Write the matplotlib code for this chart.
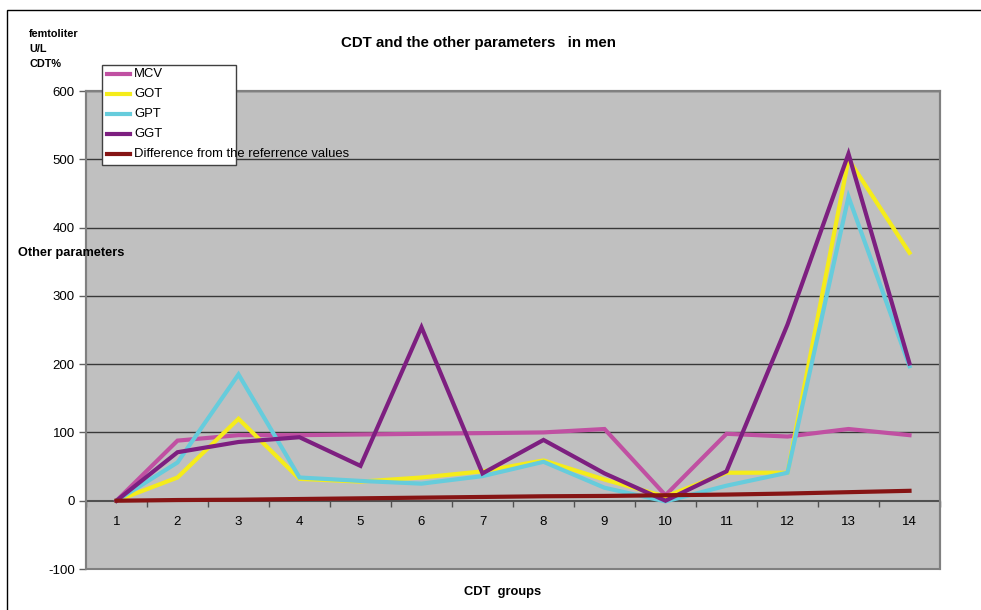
import matplotlib
matplotlib.use("Agg")
import matplotlib.pyplot as plt
from matplotlib.patches import Rectangle
from matplotlib.lines import Line2D

plt.rcParams['font.family'] = ['Liberation Sans', 'DejaVu Sans']

# CDT groups and the measured parameters per group
cdt_groups = ['1', '2', '3', '4', '5', '6', '7', '8', '9', '10', '11', '12', '13', '14']
mcv = [0, 88, 96, 96, 97, 98, 99, 100, 105, 8, 98, 94, 105, 96]
got = [0, 34, 120, 32, 28, 34, 43, 59, 31, 6, 41, 41, 500, 363]
gpt = [0, 56, 185, 34, 29, 25, 36, 57, 19, -1, 22, 41, 445, 197]
ggt = [0, 71, 86, 93, 51, 254, 40, 89, 40, 0, 43, 258, 508, 201]
diff_ref = [0, 1, 1.5, 2.5, 3.5, 4.5, 5.5, 6.5, 7, 8, 9, 10.5, 12.5, 14.5]

series_names = ['MCV', 'GOT', 'GPT', 'GGT', 'Difference from the referrence values']
series_colors = ['#C050A2', '#F5EC1A', '#66CCDC', '#7D1F80', '#861414']
y_ticks = [-100, 0, 100, 200, 300, 400, 500, 600]

W, H = 981, 610
fig = plt.figure(figsize=(W / 100, H / 100), dpi=100)

# outer chart frame
fig.add_artist(Rectangle((7 / W, -0.1), 1.2, 1 - 10 / H + 0.1, transform=fig.transFigure,
                         fill=False, edgecolor='black', linewidth=1.0))

ax = fig.add_axes([86 / W, 1 - 569 / H, (940 - 86) / W, (569 - 91) / H])
ax.set_facecolor('#C0C0C0')

x = list(range(1, len(cdt_groups) + 1))
handles = []
for vals, name, col in zip([mcv, got, gpt, ggt, diff_ref], series_names, series_colors):
    h, = ax.plot(x, vals, color=col, linewidth=3.0, label=name, zorder=3,
                 solid_joinstyle='miter')
    handles.append(h)

ax.set_xlim(0.5, len(cdt_groups) + 0.5)
ax.set_ylim(-100, 600)

# horizontal gridlines
for yv in y_ticks[2:]:
    ax.axhline(yv, color='#383838', linewidth=1.0, zorder=1)

ax.set_yticks(y_ticks)
ax.set_yticklabels([str(v) for v in y_ticks], fontsize=9.5)
ax.tick_params(axis='y', direction='out', length=5, width=1, color='#606060', pad=3)

# category axis crossing at zero
ax.spines['bottom'].set_position(('data', 0))
ax.spines['bottom'].set_color('#505050')
ax.spines['bottom'].set_linewidth(1.5)
ax.spines['bottom'].set_zorder(2)
for s in ['left', 'right', 'top']:
    ax.spines[s].set_color('#808080')
    ax.spines[s].set_linewidth(1.5)
ax.add_patch(Rectangle((0, 0), 1, 1, transform=ax.transAxes, fill=False,
                       edgecolor='#808080', linewidth=1.5, clip_on=False, zorder=4))

ax.set_xticks(x)
ax.set_xticklabels(cdt_groups, fontsize=9.5)
ax.set_xticks([i + 0.5 for i in range(0, len(cdt_groups) + 1)], minor=True)
ax.tick_params(axis='x', which='major', length=0, pad=11)
ax.tick_params(axis='x', which='minor', direction='out', length=4, width=1, color='#505050')

# titles and axis captions
fig.text(478 / W, 1 - 43 / H, 'CDT and the other parameters   in men', fontsize=10.8,
         fontweight='bold', ha='center', va='center')
fig.text(503 / W, 1 - 592 / H, 'CDT  groups', fontsize=9.3, fontweight='bold',
         ha='center', va='center')
fig.text(18 / W, 1 - 253 / H, 'Other parameters', fontsize=9.2, fontweight='bold',
         ha='left', va='center')
for i, t in enumerate(['femtoliter', 'U/L', 'CDT%']):
    fig.text(29 / W, 1 - (34 + 15 * i) / H, t, fontsize=7.8, fontweight='bold',
             ha='left', va='center')

# legend box drawn in figure pixels
fig.add_artist(Rectangle((102 / W, 1 - 165 / H), (236 - 102) / W, (165 - 65) / H,
                         transform=fig.transFigure, facecolor='white',
                         edgecolor='#404040', linewidth=1.0, zorder=5))
for i, h in enumerate(handles):
    yc = 1 - (74 + 20 * i) / H
    fig.add_artist(Line2D([107 / W, 130 / W], [yc, yc], transform=fig.transFigure,
                          color=h.get_color(), linewidth=3.0, zorder=6))
    fig.text(134 / W, yc, h.get_label(), fontsize=9.4, ha='left', va='center', zorder=7)

fig.savefig('out.png', dpi=100)
